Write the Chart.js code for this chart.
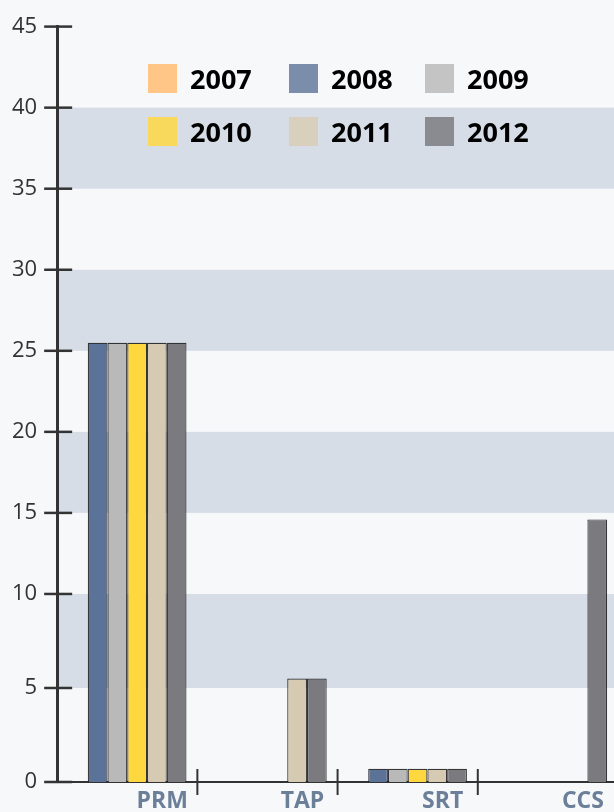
<!DOCTYPE html>
<html>
<head>
<meta charset="utf-8">
<script src="https://cdn.jsdelivr.net/npm/chart.js@4.4.0/dist/chart.umd.min.js"></script>
<style>
  html, body { margin: 0; padding: 0; background: #f7f8fa; overflow: hidden; }
  #wrap { position: relative; width: 618px; height: 812px; }
  #legend {
    position: absolute; left: 148px; top: 64px;
    display: grid; grid-template-columns: 141px 136px auto; row-gap: 24px;
    font-family: "Open Sans", sans-serif; font-weight: 700; font-size: 27px; color: #000;
  }
  .item { display: flex; align-items: center; height: 29px; }
  .sw { width: 29px; height: 29px; margin-right: 13px; }
</style>
</head>
<body>
<div id="wrap">
  <canvas id="myChart" width="618" height="812"></canvas>
  <div id="legend"></div>
</div>
<script>
const categories = ["PRM", "TAP", "SRT", "CCS"];
const years = ["2007", "2008", "2009", "2010", "2011", "2012"];
const values2007 = [null, null, null, null];
const values2008 = [25.5, null, 0.7, null];
const values2009 = [25.5, null, 0.7, null];
const values2010 = [25.5, null, 0.7, null];
const values2011 = [25.5, 5.5, 0.7, null];
const values2012 = [25.5, 5.5, 0.7, 14.6];
const yMin = 0, yMax = 45, yStep = 5;
const bandRanges = [[5, 10], [15, 20], [25, 30], [35, 40]];

const barColors = ["#ffc688", "#5b7399", "#b9b9b9", "#fed83e", "#d7cab2", "#7b7a7f"];
const legendColors = ["#ffc688", "#7a8dab", "#c4c4c4", "#f8d95c", "#d9cfbd", "#8a8b90"];

// the bottom two intervals of the axis are drawn a bit taller than the rest
const LOW_STRETCH = 1.16;
class WarpScale extends Chart.LinearScale {
  warp(v) { return v < 10 ? v * LOW_STRETCH : 10 * LOW_STRETCH + (v - 10); }
  unwarp(w) { return w < 10 * LOW_STRETCH ? w / LOW_STRETCH : w - 10 * LOW_STRETCH + 10; }
  getPixelForValue(value) {
    const lo = this.warp(this.min), hi = this.warp(this.max);
    return this.getPixelForDecimal((this.warp(value) - lo) / (hi - lo));
  }
  getValueForPixel(pixel) {
    const lo = this.warp(this.min), hi = this.warp(this.max);
    return this.unwarp(lo + this.getDecimalForPixel(pixel) * (hi - lo));
  }
}
WarpScale.id = "warp";
WarpScale.defaults = Chart.LinearScale.defaults;
Chart.register(WarpScale);

// horizontal stripes behind the bars
const bands = {
  id: "bands",
  beforeDraw(chart) {
    const { ctx, chartArea } = chart;
    const y = chart.scales.y;
    ctx.save();
    ctx.fillStyle = "#d6dde7";
    bandRanges.forEach(([a, b]) => {
      const top = y.getPixelForValue(b), bottom = y.getPixelForValue(a);
      ctx.fillRect(chartArea.left, top, chart.width - chartArea.left, bottom - top);
    });
    ctx.restore();
  },
};

// tick marks that cross the axis lines
const axisStubs = {
  id: "axisStubs",
  afterDraw(chart) {
    const { ctx } = chart;
    const xs = chart.scales.x, ys = chart.scales.y;
    ctx.save();
    ctx.strokeStyle = "#333";
    ctx.lineWidth = 2.5;
    ys.ticks.forEach((t, i) => {
      const y = ys.getPixelForTick(i);
      ctx.beginPath();
      ctx.moveTo(ys.right - 13, y);
      ctx.lineTo(ys.right + 15, y);
      ctx.stroke();
    });
    ctx.lineWidth = 2;
    for (let i = 1; i < categories.length; i++) {
      const x = (xs.getPixelForTick(i - 1) + xs.getPixelForTick(i)) / 2;
      ctx.beginPath();
      ctx.moveTo(x, xs.top - 13);
      ctx.lineTo(x, xs.top + 13);
      ctx.stroke();
    }
    ctx.restore();
  },
};

const seriesValues = [values2007, values2008, values2009, values2010, values2011, values2012];

const config = {
  type: "bar",
  data: {
    labels: categories,
    datasets: years.map((year, i) => ({
      label: year,
      data: seriesValues[i],
      backgroundColor: barColors[i],
      borderColor: "rgba(20, 20, 20, 0.85)",
      borderWidth: 1.2,
      barPercentage: 1.0,
      categoryPercentage: 0.845,
    })),
  },
  options: {
    responsive: false,
    animation: false,
    devicePixelRatio: 1,
    layout: { padding: { left: -8, top: 0, right: 0, bottom: -9 } },
    plugins: {
      legend: { display: false },
      tooltip: { enabled: false },
    },
    scales: {
      x: {
        type: "category",
        offset: true,
        grid: { display: false, drawTicks: false },
        border: { display: true, color: "#333", width: 2 },
        ticks: {
          labelOffset: 35,
          padding: 8,
          maxRotation: 0,
          autoSkip: false,
          color: "#6b7f99",
          font: { family: "Open Sans", weight: "bold", size: 23, lineHeight: 1 },
        },
      },
      y: {
        type: "warp",
        min: yMin,
        max: yMax,
        grid: { display: false, drawTicks: false },
        border: { display: true, color: "#333", width: 3 },
        ticks: {
          stepSize: yStep,
          padding: 20,
          color: "#333",
          font: { family: "Open Sans", size: 22, lineHeight: 0.6 },
        },
      },
    },
  },
  plugins: [bands, axisStubs],
};

const myChart = new Chart(document.getElementById("myChart"), config);

// legend, two rows of three
const legendEl = document.getElementById("legend");
years.forEach((year, i) => {
  const item = document.createElement("div");
  item.className = "item";
  const sw = document.createElement("span");
  sw.className = "sw";
  sw.style.background = legendColors[i];
  const txt = document.createElement("span");
  txt.textContent = year;
  item.appendChild(sw);
  item.appendChild(txt);
  legendEl.appendChild(item);
});
</script>
</body>
</html>
